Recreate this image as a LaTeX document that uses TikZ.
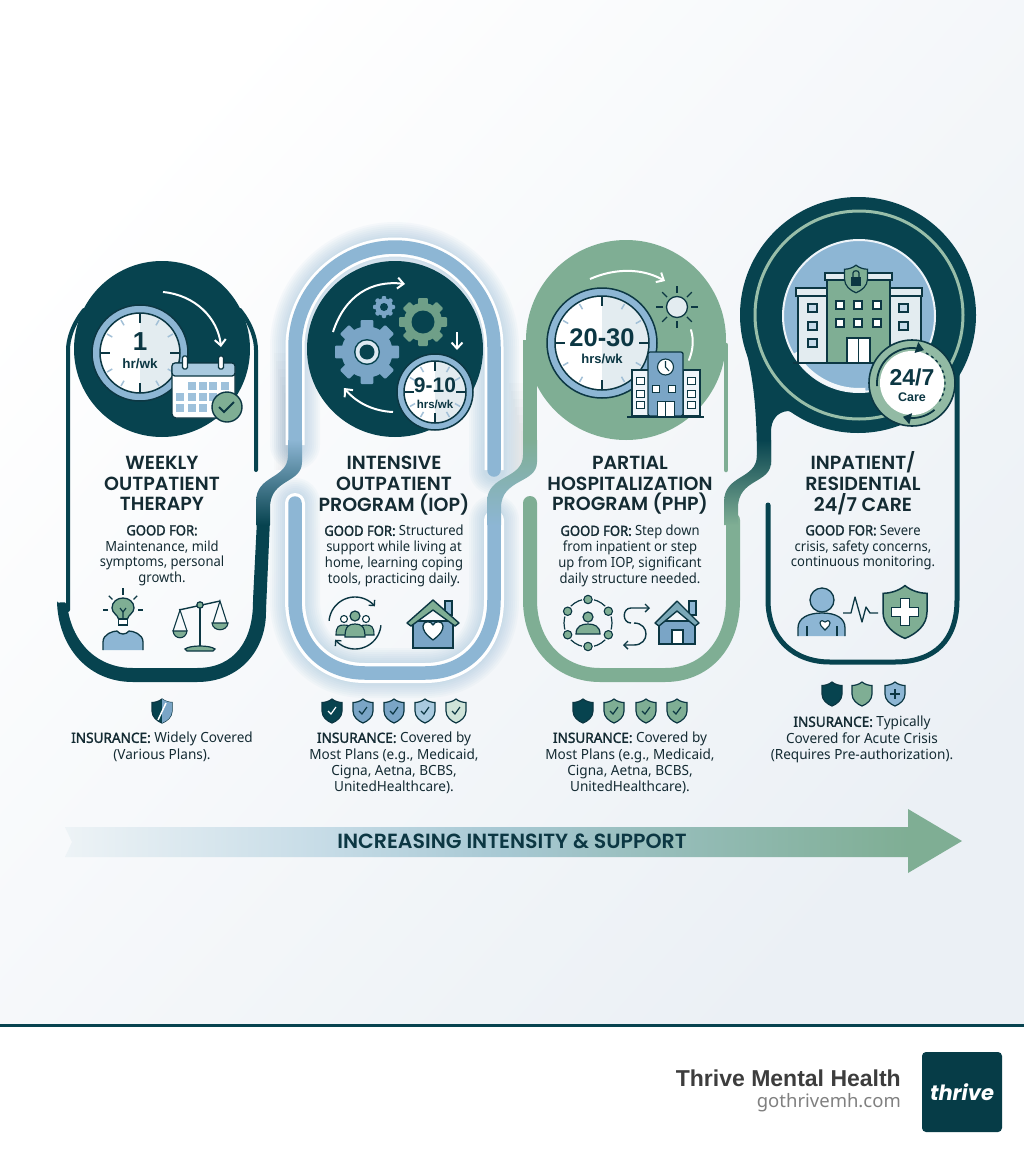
\documentclass[tikz,border=0pt]{standalone}
\usepackage{fontspec}
\usetikzlibrary{arrows.meta}
\setmainfont{Noto Sans}[BoldFont={Noto Sans},BoldFeatures={FakeBold=1.8}]
\newfontfamily\ttlfont{Poppins SemiBold}
\newfontfamily\logofont{Poppins}
\newfontfamily\numfont{Liberation Sans}
\newfontfamily\bodyfont{Noto Sans}[FakeStretch=0.93,BoldFont={Noto Sans},BoldFeatures={FakeBold=1.8,FakeStretch=0.93}]
\newfontfamily\insfont{Noto Sans}[FakeStretch=0.97,BoldFont={Noto Sans},BoldFeatures={FakeBold=1.8,FakeStretch=0.97}]
\definecolor{dk}{HTML}{07434F}
\definecolor{ink}{HTML}{0C3743}
\definecolor{txt}{HTML}{142B33}
\definecolor{bl}{HTML}{8DB6D4}
\definecolor{blm}{HTML}{7AA5C6}
\definecolor{blp}{HTML}{A9CADF}
\definecolor{gn}{HTML}{7FAE94}
\definecolor{gnd}{HTML}{6F9F88}
\definecolor{gnp}{HTML}{CFE4D9}
\definecolor{wsh}{HTML}{E3ECF0}
\definecolor{bgr}{HTML}{EBF0F5}
\definecolor{ar0}{HTML}{EDF3F6}
\definecolor{ar1}{HTML}{C5DBE6}
\definecolor{ar2}{HTML}{A7C8D3}
\definecolor{ar3}{HTML}{93BBB5}
\pgfdeclarehorizontalshading{arrowshade}{100bp}{color(0bp)=(ar0); color(25bp)=(ar0); color(40.7bp)=(ar1); color(51bp)=(ar2); color(62.5bp)=(ar3); color(75bp)=(gn); color(100bp)=(gn)}
\tikzset{
  ol/.style={draw=ink,line width=1.5pt},
  thinband/.style={line width=#1,line cap=round},
  wharrow/.style={draw=white,line width=2pt,-{Straight Barb[length=6pt,width=11pt]}},
  inkarrow/.style={draw=ink,line width=1.4pt,-{Straight Barb[length=4pt,width=8pt]}},
  ttlnode/.style={font=\ttlfont\fontsize{19}{20.7}\selectfont,text=txt,align=center,anchor=north,inner sep=0pt},
  bodynode/.style={font=\bodyfont\fontsize{14}{15.8}\selectfont,text=txt,align=center,anchor=north,inner sep=0pt},
  insnode/.style={font=\insfont\fontsize{14}{16.2}\selectfont,text=txt,align=center,anchor=north,inner sep=0pt},
  numnode/.style={font=\numfont\bfseries\fontsize{#1}{#1}\selectfont,text=ink,inner sep=0pt},
}
\newcommand\connband[4]{%
  \shade[top color=#3,bottom color=#4] ({#1+7},440)--({#1+7},462) .. controls ({#1+7},484) and ({#2+7},478) .. ({#2+7},508) -- ({#2+7},525) -- ({#2-7},525) -- ({#2-7},502) .. controls ({#2-7},474) and ({#1-7},480) .. ({#1-7},455) -- ({#1-7},440) -- cycle;}
\newcommand\softshade[3]{%
  \foreach \k in {2,4,...,14}
    \fill[black,opacity=.012] ({#1+\k},{#2+\k*4}) rectangle ({#1+16},#3);}
\newcommand\clockicon[4]{%
  \begin{scope}[shift={(#1,#2)}]
    \fill[bl] (0,0) circle[radius=#3pt];
    \draw[ol] (0,0) circle[radius=#3pt];
    \fill[white] (0,0) circle[radius=#4pt];
    \begin{scope}
      \clip (0,0) circle[radius=#4pt];
      \fill[wsh] (0,-#4) rectangle (#4,#4);
    \end{scope}
    \draw[ol] (0,0) circle[radius=#4pt];
    \foreach \a in {30,60,120,150,210,240,300,330}
      \draw[blm!70,line width=1.5pt] (\a:{#4-2}) -- (\a:{#4-8});
    \foreach \a in {0,90,180,270}
      \draw[ink,line width=1.5pt] (\a:#4) -- (\a:{#4-10});
  \end{scope}}
\newcommand\gearicon[6]{%
  \begin{scope}[shift={(#1,#2)}]
    \foreach \a in {0,45,...,135}
      \fill[#4,rotate=\a,rounded corners=1pt] ({-#3*.2},-#3) rectangle ({#3*.2},#3);
    \fill[#4] (0,0) circle[radius=#3*.8pt];
    \fill[#6] (0,0) circle[radius=#5pt];
  \end{scope}}
\newcommand\shieldicon[4]{%
  \begin{scope}[shift={(#1,#2)},scale=#3]
    \path[draw=ink,line width=1.2pt,fill=#4] (0,-12) .. controls (3,-9.5) and (7,-8.5) .. (10,-8.5) -- (10,0) .. controls (10,6) and (5,10) .. (0,12) .. controls (-5,10) and (-10,6) .. (-10,0) -- (-10,-8.5) .. controls (-7,-8.5) and (-3,-9.5) .. (0,-12) -- cycle;
  \end{scope}}
\newcommand\chk[3]{\draw[#3,line width=1.2pt] ({#1-4},#2) -- ({#1-1},{#2+3}) -- ({#1+4},{#2-4});}
\newcommand\houseicon[7]{%
  \begin{scope}[shift={(#1,#2)}]
    \fill[bl,draw=ink,line width=1.4pt] (12,-22) rectangle (19,-8);
    \path[fill=blm,draw=ink,line width=1.4pt] (-#3,-2) -- (-#3,#5) -- (#3,#5) -- (#3,-2) -- cycle;
    \path[fill=#6,draw=ink,line width=1.4pt,line join=round] (-#4,0) -- (0,-#7) -- (#4,0) -- ({#4-4},3) -- (0,{-#7+10}) -- ({-#4+4},3) -- cycle;
  \end{scope}}
\begin{document}
\begin{tikzpicture}[x=1pt,y=-1pt]
\useasboundingbox (0,0) rectangle (1024,1154);
% background
\shade[shading=axis,top color=white,bottom color=bgr,shading angle=48] (0,0) rectangle (1024,1025);
\fill[white] (0,1025) rectangle (1024,1154);
\fill[dk] (0,1024) rectangle (1024,1027);
% glow card 2
\foreach \w in {50,46,42,38,34,30,26,22}{
  \draw[bl,opacity=.06,line width=\w pt,line cap=round] (295,503)--(295,600) .. controls (295,645) and (325,673) .. (365,673) -- (425,673) .. controls (465,673) and (494,645) .. (494,600) -- (494,520);
  \draw[bl,opacity=.06,line width=\w pt,line cap=round] (295,445) -- (295,347) .. controls (295,292) and (340,247) .. (395,247) .. controls (450,247) and (494,292) .. (494,347) -- (494,470);
}
\softshade{272}{345}{470}
\softshade{507}{375}{475}
\draw[white,line width=20pt,line cap=round] (295,503)--(295,600) .. controls (295,645) and (325,673) .. (365,673) -- (425,673) .. controls (465,673) and (494,645) .. (494,600) -- (494,520);
\draw[white,line width=19pt] (295,445) -- (295,347) .. controls (295,292) and (340,247) .. (395,247) .. controls (450,247) and (494,292) .. (494,347) -- (494,470);
% ---------------- card 1
\draw[dk,thinband=4pt] (256,470) -- (256,350) .. controls (256,340) and (252,325) .. (240,310);
\draw[dk,thinband=4pt] (68,610) -- (68,350) .. controls (68,340) and (72,325) .. (84,310);
\path[fill=dk,rounded corners=2pt] (57,603) -- (63,602) -- (67,603) .. controls (71,640) and (95,668) .. (135,668) -- (195,668) .. controls (235,668) and (253,640) .. (253,600) -- (257,520) -- (270,520) -- (266,610) .. controls (266,650) and (240,682) .. (195,682) -- (135,682) .. controls (90,682) and (60,650) .. (57,603) -- cycle;
\fill[dk] (162,349) circle[radius=88pt];
% ---------------- card 2 bands
\draw[bl,line width=13.5pt,line cap=round] (295,503)--(295,600) .. controls (295,645) and (325,673) .. (365,673) -- (425,673) .. controls (465,673) and (494,645) .. (494,600) -- (494,520);
\draw[bl,line width=13.5pt,line cap=round] (295,445) -- (295,347) .. controls (295,292) and (340,247) .. (395,247) .. controls (450,247) and (494,292) .. (494,347) -- (494,470);
\fill[dk] (395,349) circle[radius=88pt];
% ---------------- card 3
\draw[gn,line width=14pt,line cap=round] (530,503)--(530,600) .. controls (530,645) and (560,675) .. (600,675) -- (665,675) .. controls (705,675) and (733,645) .. (733,600) -- (733,520);
\draw[gn,line width=14pt] (530,445) -- (530,340);
\draw[gn,thinband=4.5pt] (726,470) -- (726,345);
\fill[gn] (626,340) circle[radius=100pt];
% ---------------- card 4
\draw[dk,thinband=5pt] (768,505)--(768,600) .. controls (768,640) and (795,662) .. (830,662) -- (895,662) .. controls (935,662) and (957,640) .. (957,600) -- (957,370);
\path[fill=dk] (745,345) .. controls (752,375) and (757,400) .. (757,465) -- (771,465) -- (771,432) .. controls (771,420) and (777,412) .. (788,411) -- (840,425) -- (840,345) -- cycle;
\fill[dk] (858,315) circle[radius=118pt];
\draw[gn!80!white,line width=3pt] (859,315) circle[radius=104pt];
\fill[bl] (859,316) circle[radius=76pt];
\draw[white!85!bl,line width=2pt] (859,316) circle[radius=76pt];
\draw[white!90!bl,line width=4pt] plot[domain=85:150,samples=24,smooth] ({859+74*cos(\x)},{316+74*sin(\x)});
% connectors
\connband{295}{263}{bl}{dk}
\connband{530}{494}{gn}{bl}
\connband{764}{731}{dk}{gn}
% ---------- card 1 icons
\draw[wharrow] (163,292) .. controls (195,295) and (218,318) .. (221,347);
\clockicon{140}{353}{48}{40}
\node[numnode=26] (n1) at (140,342) {1};
\node[numnode=13.5] (h1) at (140,364) {hr/wk};
\draw[fill=white,draw=ink,line width=1.3pt,rounded corners=4pt] (172,363) rectangle (235,418);
\path[fill=blp,draw=ink,line width=1.3pt,rounded corners=3pt] (172,376) -- (172,363) -- (235,363) -- (235,376) -- cycle;
\foreach \x/\y in {192/386,203/386,213/386,225/386,180/397,192/397,203/397,213/397,180/408,192/408,203/408}
  \fill[bl!85] ({\x-4},{\y-4}) rectangle ({\x+4},{\y+4});
\foreach \x in {185,221}
  \draw[fill=white,draw=ink,line width=1.2pt,rounded corners=1.5pt] ({\x-2.5},356) rectangle ({\x+2.5},369);
\fill[gn,draw=ink,line width=1.4pt] (227,407) circle[radius=15pt];
\draw[ink,line width=2pt] (219,407) -- (224,412) -- (234,402);
% bulb person
\begin{scope}[shift={(123,610)}]
  \path[fill=bl,draw=ink,line width=1.3pt] (-20,40) -- (-20,32) .. controls (-20,24) and (-10,21) .. (-6,21) .. controls (-3,25) and (3,25) .. (6,21) .. controls (10,21) and (20,24) .. (20,32) -- (20,40);
  \path[fill=gn,draw=ink,line width=1.3pt] (-4.5,9) .. controls (-5,5) and (-11,3) .. (-11,-2) .. controls (-11,-8) and (-6,-12) .. (0,-12) .. controls (6,-12) and (11,-8) .. (11,-2) .. controls (11,3) and (5,5) .. (4.5,9) -- cycle;
  \draw[ink,line width=1.2pt] (-3,-2) -- (0,2) -- (3,-2) (0,2) -- (0,9);
  \fill[white,draw=ink,line width=1.2pt] (-4.5,9) rectangle (4.5,15);
  \foreach \a in {180,225,270,315,0}
    \draw[ink,line width=1.3pt] (\a:15) -- (\a:{\a==270?22:20});
\end{scope}
% scale
\begin{scope}[shift={(200,605)}]
  \draw[ink,line width=1.6pt] (0,0) -- (0,42);
  \draw[ink,line width=1.4pt] (-21,5) -- (20,-4);
  \path[fill=gn,draw=ink,line width=1.2pt] (-13,46) -- (13,46) -- (15,44) .. controls (10,40) and (-10,40) .. (-15,44) -- cycle;
  \fill[gn,draw=ink,line width=1.2pt] (0,0) circle[radius=3.2pt];
  \draw[ink,line width=1.1pt] (-27,26) -- (-20,5) -- (-13,26) (13,18) -- (20,-4) -- (27,18);
  \path[fill=gn,draw=ink,line width=1.1pt] (-27,26) -- (-13,26) .. controls (-14,35) and (-26,35) .. (-27,26) -- cycle;
  \path[fill=gn,draw=ink,line width=1.1pt] (12,18) -- (28,18) .. controls (27,27) and (13,27) .. (12,18) -- cycle;
\end{scope}
% ---------- card 2 icons
\draw[wharrow] (333,332) .. controls (345,295) and (372,280) .. (405,284);
\draw[wharrow] (457,332) -- (457,350);
\draw[wharrow] (393,412) .. controls (372,411) and (356,402) .. (344,388);
\gearicon{367}{352}{32}{blm}{13}{dk}
\fill[white!70!bl] (367,352) circle[radius=11.5pt];
\fill[dk] (367,352) circle[radius=7.5pt];
\gearicon{423}{322}{24}{gnd}{11.5}{dk}
\gearicon{384}{307}{11}{blm}{4}{dk}
\clockicon{435}{392}{38}{31}
\node[numnode=21] (n2) at (435,385) {9-10};
\node[numnode=11.5] (h2) at (435,404) {hrs/wk};
% team
\begin{scope}[shift={(355,623)}]
  \draw[inkarrow] plot[domain=185:320,samples=30,smooth] ({26*cos(\x)},{26*sin(\x)});
  \draw[inkarrow] plot[domain=5:140,samples=30,smooth] ({26*cos(\x)},{26*sin(\x)});
  \foreach \x in {-11,11}{
    \path[fill=gn,draw=ink,line width=1.1pt] ({\x-8},12) .. controls ({\x-8},3) and ({\x-5},2) .. (\x,2) .. controls ({\x+5},2) and ({\x+8},3) .. ({\x+8},12) -- cycle;
    \fill[white,draw=ink,line width=1.1pt] (\x,-4) circle[radius=3.5pt];}
  \path[fill=gn,draw=ink,line width=1.2pt] (-10,14) .. controls (-10,3) and (-6,1) .. (0,1) .. controls (6,1) and (10,3) .. (10,14) -- cycle;
  \fill[gn,draw=ink,line width=1.2pt] (0,-7) circle[radius=5pt];
\end{scope}
\houseicon{433}{623}{20}{26}{25}{gn}{23}
\path[fill=white,draw=ink,line width=1.3pt,line join=round] (433,640) .. controls (425,634) and (423,630) .. (423,626) .. controls (423,621) and (431,620) .. (433,625) .. controls (435,620) and (443,621) .. (443,626) .. controls (443,630) and (441,634) .. (433,640) -- cycle;
% ---------- card 3 icons
\draw[wharrow] (590,279) .. controls (615,268) and (642,268) .. (665,281);
\draw[white,line width=2pt,line cap=round] (691,330) .. controls (694,340) and (693,350) .. (689,360);
\clockicon{602}{343}{55}{47}
\node[numnode=25.5] (n3) at (602,338) {20-30};
\node[numnode=13] (h3) at (602,359) {hrs/wk};
\fill[wsh,draw=ink,line width=1.3pt] (677,307) circle[radius=10.5pt];
\foreach \a in {0,45,...,315}
  \draw[ink,line width=1.3pt] ({677+14*cos(\a)},{307+14*sin(\a)}) -- ({677+21*cos(\a)},{307+21*sin(\a)});
\fill[white!85!bl,draw=ink,line width=1.3pt] (632,370) rectangle (650,416);
\fill[white!85!bl,draw=ink,line width=1.3pt] (683,370) rectangle (700,416);
\path[fill=blm,draw=ink,line width=1.3pt,rounded corners=2pt] (648,416) -- (648,352) -- (683,352) -- (683,416) -- cycle;
\foreach \y in {381,394,405}{
  \fill[white,draw=ink,line width=1pt] (636.5,{\y-3.5}) rectangle (644,{\y+3.5});
  \fill[white,draw=ink,line width=1pt] (687.5,{\y-3.5}) rectangle (695,{\y+3.5});}
\foreach \x in {656,672}
  \fill[white,draw=ink,line width=1pt] ({\x-3.5},385.5) rectangle ({\x+3.5},392.5);
\fill[white,draw=ink,line width=1pt] (657,417) rectangle (674,401);
\draw[ink,line width=1pt] (665.5,401) -- (665.5,417);
\fill[white,draw=ink,line width=1.1pt] (665.5,367) circle[radius=8pt];
\draw[ink,line width=1.1pt] (665.5,361) -- (665.5,367) -- (669,371);
\draw[ink,line width=1.6pt] (627,417) -- (704,417);
% group
\begin{scope}[shift={(588,623)}]
  \draw[ink,line width=1.2pt] (0,0) circle[radius=24pt];
  \foreach \a in {30,90,150,210,270,330}
    \fill[white!92!bl] (\a:24) circle[radius=6pt];
  \foreach \a in {-90,-30,30,90,150,210}
    \fill[gn,draw=ink,line width=1.1pt] (\a:23.5) circle[radius=4.2pt];
  \fill[gn,draw=ink,line width=1.2pt] (0,-6) circle[radius=5pt];
  \path[fill=gn,draw=ink,line width=1.2pt] (-12,11) .. controls (-12,3) and (-6,1) .. (0,1) .. controls (6,1) and (12,3) .. (12,11) -- cycle;
\end{scope}
\draw[inkarrow] (631,623) .. controls (622,623) and (622,608) .. (631,608) -- (650,608);
\draw[inkarrow] (634,623) .. controls (650,623) and (650,645) .. (634,645) -- (623,645);
\houseicon{677}{623}{18}{22}{21}{gn!30!blm}{22}
\fill[white,draw=ink,line width=1.2pt] (672,644) rectangle (683,630);
% ---------- card 4 icons
\begin{scope}
  \fill[wsh,draw=ink,line width=1.4pt] (798,294) rectangle (827,363);
  \fill[wsh,draw=ink,line width=1.4pt] (890,294) rectangle (921,363);
  \fill[wsh,draw=ink,line width=1.4pt] (796,288) rectangle (922,296);
  \fill[gn,draw=ink,line width=1.4pt] (827,279) rectangle (890,363);
  \fill[wsh,draw=ink,line width=1.4pt] (825,273) rectangle (892,280);
  \foreach \x in {840,858,877} \foreach \y in {305,323}
    \fill[white,draw=ink,line width=1.3pt] ({\x-4},{\y-4}) rectangle ({\x+4},{\y+4});
  \foreach \y in {308,326,343}
    \fill[white!50!bl,draw=ink,line width=1.3pt] (808,{\y-4}) rectangle (817,{\y+4});
  \foreach \y in {308,326}
    \fill[white!50!bl,draw=ink,line width=1.3pt] (899,{\y-4}) rectangle (908,{\y+4});
  \fill[white,draw=ink,line width=1.3pt] (847,338) rectangle (870,363);
  \draw[ink,line width=1.2pt] (858.5,338) -- (858.5,363);
  \draw[ink,line width=1.8pt] (793,363) -- (915,363);
  \shieldicon{856}{279}{1.15}{gn}
  \fill[ink] (851,277) rectangle (861,286);
  \draw[ink,line width=1.2pt] (853,277) -- (853,273) .. controls (853,270) and (859,270) .. (859,273) -- (859,277);
\end{scope}
% 24/7 badge
\fill[gn!85!white,draw=ink,line width=1.6pt] (912,383) circle[radius=43pt];
\fill[white] (912,383) circle[radius=32pt];
\draw[ink,line width=1.8pt,-{Triangle[length=8pt,width=11pt]}] plot[domain=175:290,samples=30,smooth] ({912+35*cos(\x)},{383+35*sin(\x)});
\draw[ink,line width=1.8pt,-{Triangle[length=8pt,width=11pt]}] plot[domain=50:105,samples=20,smooth] ({912+35*cos(\x)},{383+35*sin(\x)});
\draw[ink,line width=1.4pt,dashed] plot[domain=295:395,samples=20,smooth] ({912+33*cos(\x)},{383+33*sin(\x)});
\node[numnode=23] (n4) at (912,377) {24/7};
\node[numnode=12.5] (h4) at (912,397) {Care};
% person ecg shield
\fill[bl,draw=ink,line width=1.3pt] (822,600) circle[radius=12pt];
\path[fill=bl,draw=ink,line width=1.3pt] (798,636) -- (798,628) .. controls (798,618) and (808,613) .. (822,613) .. controls (836,613) and (845,618) .. (845,628) -- (845,636);
\draw[ink,line width=1.2pt] (807,626) -- (807,636) (837,626) -- (837,636);
\path[fill=white,draw=ink,line width=1.1pt] (825,630) .. controls (821,626) and (820,625) .. (820,623) .. controls (820,620) and (824,620) .. (825,622) .. controls (826,620) and (830,620) .. (830,623) .. controls (830,625) and (829,626) .. (825,630) -- cycle;
\draw[ink,line width=1.3pt,line join=round] (843,613) -- (851,613) -- (855,597) -- (862,622) -- (866,607) -- (870,613) -- (878,613);
\begin{scope}[shift={(905,612)},scale=2.2]
  \path[draw=ink,line width=1.5pt,fill=gn] (0,-12) .. controls (3,-9.5) and (7,-8.5) .. (10,-8.5) -- (10,0) .. controls (10,6) and (5,10) .. (0,12) .. controls (-5,10) and (-10,6) .. (-10,0) -- (-10,-8.5) .. controls (-7,-8.5) and (-3,-9.5) .. (0,-12) -- cycle;
  \path[fill=white,draw=ink,line width=1.2pt] (-2,-6) -- (2,-6) -- (2,-2) -- (6,-2) -- (6,2) -- (2,2) -- (2,6) -- (-2,6) -- (-2,2) -- (-6,2) -- (-6,-2) -- (-2,-2) -- cycle;
\end{scope}
% ---------- titles
\node[ttlnode] (t1) at (162,456) {WEEKLY\\OUTPATIENT\\THERAPY};
\node[ttlnode] (t2) at (394,456) {INTENSIVE\\OUTPATIENT\\PROGRAM (IOP)};
\node[ttlnode] (t3) at (630,456) {PARTIAL\\HOSPITALIZATION\\PROGRAM (PHP)};
\node[ttlnode] (t4) at (863,451.5) {INPATIENT/\\RESIDENTIAL\\24/7 CARE};
% ---------- bodies
\node[bodynode] (b1) at (162,525) {\textbf{GOOD FOR:}\\Maintenance, mild\\symptoms, personal\\growth.};
\node[bodynode] (b2) at (394,525) {\textbf{GOOD FOR:} Structured\\support while living at\\home, learning coping\\tools, practicing daily.};
\node[bodynode] (b3) at (630,525) {\textbf{GOOD FOR:} Step down\\from inpatient or step\\up from IOP, significant\\daily structure needed.};
\node[bodynode] (b4) at (863,525) {\textbf{GOOD FOR:} Severe\\crisis, safety concerns,\\continuous monitoring.};
% ---------- shields
\shieldicon{162}{711}{1}{dk}
\path[fill=blm] (162,699) .. controls (165,701) and (169,702.5) .. (172,702.5) -- (172,711) .. controls (172,717) and (167,721) .. (162,723) -- cycle;
\draw[white,line width=1.5pt] (158,720) -- (166,703);
\shieldicon{332}{711}{1}{dk}\chk{332}{711}{white}
\shieldicon{363}{711}{1}{blm}\chk{363}{711}{ink}
\shieldicon{394}{711}{1}{blm}\chk{394}{711}{ink}
\shieldicon{425}{711}{1}{blp}\chk{425}{711}{ink}
\shieldicon{456}{711}{1}{gnp}\chk{456}{711}{ink}
\shieldicon{583}{711}{1}{dk}
\shieldicon{614}{711}{1}{gn}\chk{614}{711}{ink}
\shieldicon{646}{711}{1}{gn}\chk{646}{711}{ink}
\shieldicon{677}{711}{1}{gn}\chk{677}{711}{ink}
\shieldicon{832}{694}{1}{dk}
\shieldicon{862}{694}{1}{gn}
\shieldicon{895}{694}{1}{bl}
\draw[ink,line width=1.3pt] (895,689) -- (895,699) (890,694) -- (900,694);
% ---------- insurance
\node[insnode] (i1) at (162,732) {\textbf{INSURANCE:} Widely Covered\\(Various Plans).};
\node[insnode] (i2) at (394,732) {\textbf{INSURANCE:} Covered by\\Most Plans (e.g., Medicaid,\\Cigna, Aetna, BCBS,\\UnitedHealthcare).};
\node[insnode] (i3) at (630,732) {\textbf{INSURANCE:} Covered by\\Most Plans (e.g., Medicaid,\\Cigna, Aetna, BCBS,\\UnitedHealthcare).};
\node[insnode] (i4) at (862,716) {\textbf{INSURANCE:} Typically\\Covered for Acute Crisis\\(Requires Pre-authorization).};
% ---------- intensity arrow
\shade[shading=arrowshade] (65,827) -- (909,827) -- (909,857) -- (65,857) -- (72,842) -- cycle;
\path[fill=gn] (908,809) -- (962,841) -- (908,873) -- cycle;
\node[font=\ttlfont\fontsize{20.5}{21}\selectfont,text=ink,inner sep=0pt] (arrowtext) at (512,841) {INCREASING INTENSITY \& SUPPORT};
% ---------- footer
\node[font=\numfont\bfseries\fontsize{23}{24}\selectfont,text=black!76,anchor=base east,inner sep=0pt] (brand) at (901,1086) {Thrive Mental Health};
\node[font=\fontsize{18.5}{20}\selectfont,text=black!50,anchor=base east,inner sep=0pt] (site) at (901,1107) {gothrivemh.com};
\fill[dk!90!black,rounded corners=4pt] (922,1052) rectangle (1002,1132);
\node[font=\logofont\bfseries\itshape\fontsize{21}{22}\selectfont,text=white,inner sep=0pt] (logo) at (962,1092) {thrive};
\end{tikzpicture}
\end{document}
